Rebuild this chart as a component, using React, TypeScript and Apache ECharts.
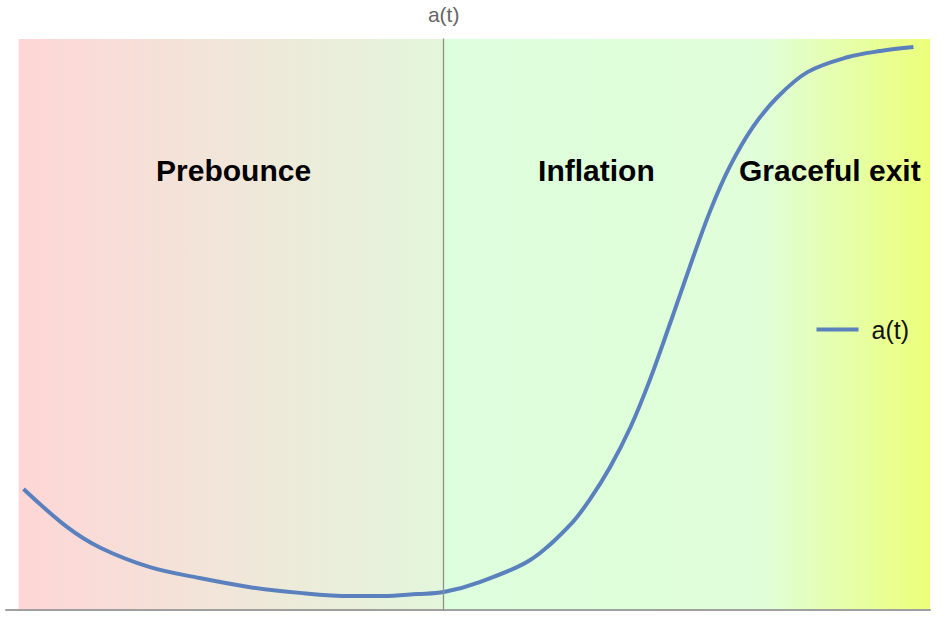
import React, { useEffect, useRef } from "react";
import * as echarts from "echarts";

// Curve a(t)
const tValues = [-4.32, -3.87, -3.53, -3.02, -2.51, -1.99, -1.48, -0.96, -0.62, -0.27, 0.0, 0.37, 0.89, 1.3, 1.5, 1.71, 1.92, 2.12, 2.33, 2.53, 2.74, 2.94, 3.18, 3.43, 3.74, 4.15, 4.49, 4.83];
const aValues = [0.212, 0.145, 0.109, 0.075, 0.056, 0.04, 0.03, 0.0245, 0.0245, 0.028, 0.0315, 0.049, 0.0876, 0.149, 0.193, 0.25, 0.32, 0.403, 0.503, 0.601, 0.699, 0.776, 0.846, 0.898, 0.942, 0.968, 0.979, 0.986];

// Phase labels
const phaseNames = ["Prebounce", "Inflation", "Graceful exit"];
const phaseLabelT = [-2.16, 1.57, 3.97];
const phaseLabelA = [0.769, 0.769, 0.769];

// Background regions (t)
const regionStart = [-4.37, 0];
const regionEnd = [0, 5];

const X_MIN = -4.5;
const X_MAX = 5;

export default function App() {
  const ref = useRef<HTMLDivElement>(null);
  useEffect(() => {
    if (!ref.current) return;
    const chart = echarts.init(ref.current, null, { renderer: "svg" });
    const font = "Liberation Sans, Arial, sans-serif";
    const leftGrad = new echarts.graphic.LinearGradient(0, 0, 1, 0, [
      { offset: 0, color: "#fed6d6" },
      { offset: 1, color: "#e3f6dc" },
    ]);
    const rightGrad = new echarts.graphic.LinearGradient(0, 0, 1, 0, [
      { offset: 0, color: "#ddfedd" },
      { offset: 0.66, color: "#e0fed8" },
      { offset: 1, color: "#ecff7a" },
    ]);
    const data = tValues.map((t, i) => [t, aValues[i]]);
    chart.setOption({
      animation: false,
      textStyle: { fontFamily: font },
      grid: { left: 6, right: 17, top: 39, bottom: 10 },
      legend: {
        data: [{ name: "a(t)", icon: "rect" }],
        right: 33,
        top: 312,
        itemWidth: 42,
        itemHeight: 4,
        itemGap: 10,
        itemStyle: { color: "#5b80be" },
        textStyle: { fontSize: 25, color: "#111", fontFamily: font, padding: [0, 0, 0, 8] },
      },
      xAxis: {
        type: "value",
        min: X_MIN,
        max: X_MAX,
        axisLine: { show: true, lineStyle: { color: "#a0a0a0", width: 2 } },
        axisTick: { show: false },
        axisLabel: { show: false },
        splitLine: { show: false },
      },
      yAxis: {
        type: "value",
        min: 0,
        max: 1,
        z: 10,
        name: "a(t)",
        nameLocation: "end",
        nameGap: 14,
        nameTextStyle: { color: "#666", fontSize: 21, fontFamily: font },
        axisLine: { show: true, onZero: true, lineStyle: { color: "#8a948a", width: 1.3 } },
        axisTick: { show: false },
        axisLabel: { show: false },
        splitLine: { show: false },
      },
      series: [
        {
          name: "a(t)",
          type: "line",
          data,
          smooth: 0.35,
          showSymbol: false,
          symbol: "none",
          lineStyle: { color: "#5b80be", width: 4 },
          itemStyle: { color: "#5b80be" },
          z: 2,
          markArea: {
            silent: true,
            z: 0,
            data: [
              [{ xAxis: regionStart[0], itemStyle: { color: leftGrad, opacity: 1 } }, { xAxis: regionEnd[0] }],
              [{ xAxis: regionStart[1], itemStyle: { color: rightGrad, opacity: 1 } }, { xAxis: regionEnd[1] }],
            ],
          },
          markPoint: {
            silent: true,
            symbol: "circle",
            symbolSize: 0,
            label: {
              show: true,
              position: "inside",
              formatter: (p: any) => p.name,
              fontSize: 30,
              fontWeight: "bold",
              color: "#000",
              fontFamily: font,
            },
            data: phaseNames.map((n, i) => ({ name: n, coord: [phaseLabelT[i], phaseLabelA[i]] })),
          },
        },
      ],
    });
    return () => chart.dispose();
  }, []);
  return (
    <div
      ref={ref}
      style={{ position: "fixed", left: 0, top: 0, width: 947, height: 620, background: "#fff" }}
    />
  );
}
